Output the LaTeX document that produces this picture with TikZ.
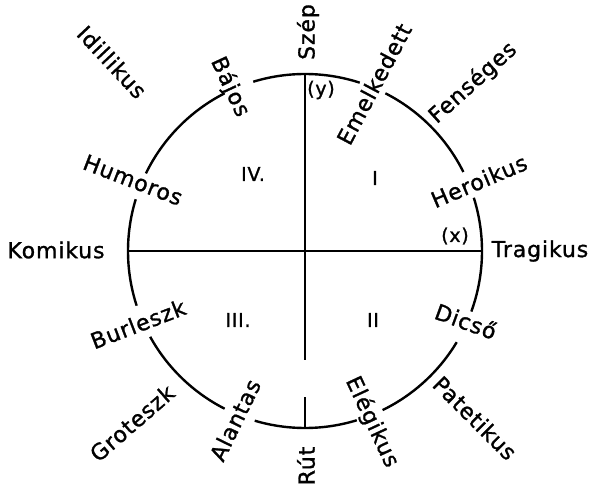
\documentclass[tikz,border=0pt]{standalone}
\usepackage{fontspec}
\setmainfont{DejaVu Sans}[LetterSpace=4, FakeBold=1.2]
\begin{document}
\begin{tikzpicture}[x=1pt,y=1pt,
  lbl/.style={inner sep=0pt, font=\fontsize{22}{26}\selectfont},
  num/.style={inner sep=0pt, font=\fontsize{19}{22}\selectfont},
  axisline/.style={line width=2.6pt},
  ring/.style={line width=2.4pt}]
\useasboundingbox (0,0) rectangle (591,-486);
\coordinate (O) at (305,-251);
\def\R{177}
% circle arcs with gaps
\foreach \a/\b in {72/107, 117/154, 163/198, 209/243, 253.5/287, 296/329, 340/377.5, 26.5/63}{
  \draw[ring] ([shift={(\a:\R)}]O) arc[start angle=\a, end angle=\b, radius=\R];
}
% axes
\coordinate (top) at (305,-74);
\coordinate (vgapA) at (305,-360);
\coordinate (vgapB) at (305,-397);
\coordinate (bot) at (305,-428);
\coordinate (left) at (128,-251);
\coordinate (right) at (482,-251);
\draw[axisline] (top) -- (vgapA);
\draw[axisline] (vgapB) -- (bot);
\draw[axisline] (left) -- (right);
% labels
\node[lbl, rotate=90]  (szep) at (308,-32) {Szép};
\node[lbl, rotate=90]  (rut) at (306,-466) {Rút};
\node[lbl, rotate=-65] (bajos) at (230,-87) {Bájos};
\node[lbl, rotate=62]  (emel) at (374,-84) {Emelkedett};
\node[lbl, rotate=42]  (fens) at (473,-83) {Fenséges};
\node[lbl, rotate=-47] (idil) at (112,-62) {Idillikus};
\node[lbl, rotate=-21] (humo) at (133,-180) {Humoros};
\node[lbl, rotate=23]  (hero) at (479,-181) {Heroikus};
\node[lbl]             (komi) at (56,-250) {Komikus};
\node[lbl]             (trag) at (540,-251) {Tragikus};
\node[lbl, rotate=21]  (burl) at (138,-324) {Burleszk};
\node[lbl, rotate=-20] (dics) at (466,-321) {Dicső};
\node[lbl, rotate=41]  (grot) at (132,-423) {Groteszk};
\node[lbl, rotate=64]  (alan) at (235,-420) {Alantas};
\node[lbl, rotate=-65] (eleg) at (372,-422) {Elégikus};
\node[lbl, rotate=-45] (pate) at (475,-418) {Patetikus};
\node[num] (xlab) at (455,-236) {(x)};
\node[num] (ylab) at (321,-90) {(y)};
\node[num] (q4) at (253,-174) {IV.};
\node[num] (q1) at (375,-178) {I};
\node[num] (q3) at (238,-320) {III.};
\node[num] (q2) at (373,-320) {II};
\end{tikzpicture}
\end{document}
